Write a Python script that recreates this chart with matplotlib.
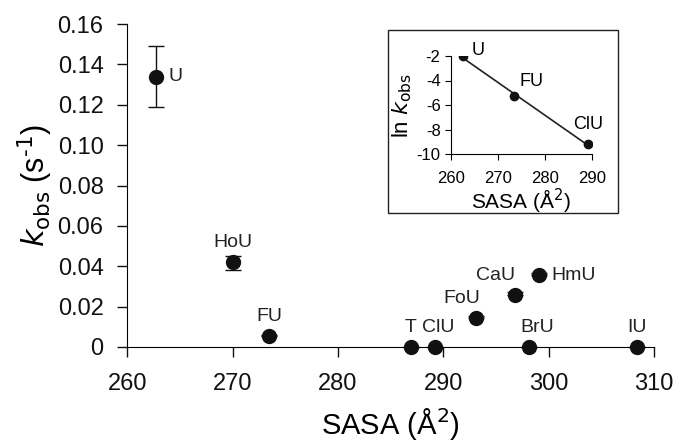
import matplotlib.pyplot as plt
import numpy as np

plt.rcParams['font.family'] = ['Liberation Sans', 'DejaVu Sans']
plt.rcParams['axes.unicode_minus'] = False

# main panel data
names = ['U', 'HoU', 'FU', 'T', 'ClU', 'FoU', 'CaU', 'HmU', 'BrU', 'IU']
sasa = [262.7, 270.0, 273.5, 286.9, 289.2, 293.1, 296.8, 299.1, 298.1, 308.4]
kobs = [0.134, 0.042, 0.0055, 0.0, 0.0, 0.0144, 0.026, 0.0356, 0.0, 0.0]
err_lo = [0.015, 0.004, 0.0, 0.0, 0.0, 0.0, 0.0, 0.0, 0.0, 0.0]
err_hi = [0.015, 0.003, 0.0005, 0.0, 0.0, 0.001, 0.001, 0.001, 0.0, 0.0]

# inset data
in_names = ['U', 'FU', 'ClU']
in_sasa = [262.5, 273.3, 289.2]
in_lnk = [-2.0, -5.3, -9.2]

# label offsets in points (dx, dy)
offsets = {
    'U': (9, 0), 'HoU': (0, 14), 'FU': (0, 14), 'T': (0, 14), 'ClU': (2, 14),
    'FoU': (-10, 14), 'CaU': (-14, 14), 'HmU': (25, 0), 'BrU': (6, 14), 'IU': (0, 14),
}

fig = plt.figure(figsize=(6.73, 4.46), dpi=100)
ax = fig.add_axes([0.189, 0.222, 0.783, 0.724])

ax.errorbar(sasa, kobs, yerr=[err_lo, err_hi], fmt='o', color='#111111',
            markersize=10, capsize=6, elinewidth=1, capthick=1, clip_on=False, zorder=3)
for n, x, y in zip(names, sasa, kobs):
    dx, dy = offsets[n]
    if n == 'U':
        ax.annotate(n, (x, y), xytext=(dx, 0), textcoords='offset points',
                    ha='left', va='center', fontsize=14, color='#222222')
    else:
        ax.annotate(n, (x, y), xytext=(dx, dy), textcoords='offset points',
                    ha='center', va='center', fontsize=14, color='#222222')

ax.set_xlim(260, 310)
ax.set_ylim(0, 0.16)
ax.set_xticks(np.arange(260, 311, 10))
ax.set_yticks(np.arange(0, 0.161, 0.02))
ax.set_yticklabels(['0'] + ['%.2f' % v for v in np.arange(0.02, 0.161, 0.02)])
for s in ['top', 'right']:
    ax.spines[s].set_visible(False)
ax.tick_params(direction='out', length=7, labelsize=17, width=1, colors='#111111')
ax.tick_params(axis='x', pad=12)
ax.tick_params(axis='y', pad=10)
ax.set_xlabel('SASA (Å$^2$)', fontsize=21, labelpad=8)
ax.set_ylabel(r'$k_{\mathrm{obs}}$ (s$^{\text{-}1}$)', fontsize=22, labelpad=2)

# inset box
box = plt.Rectangle((388 / 673, 1 - 213 / 446), 230 / 673, 183 / 446,
                    transform=fig.transFigure, facecolor='white', edgecolor='#222222',
                    linewidth=1, zorder=5)
fig.patches.append(box)

ins = fig.add_axes([451 / 673, 1 - 154 / 446, 141 / 673, 98 / 446])
ins.set_zorder(6)
ins.patch.set_alpha(0)
fit = np.polyfit(in_sasa, in_lnk, 1)
xs = np.array([in_sasa[0], in_sasa[-1]])
ins.plot(xs, np.polyval(fit, xs), color='#222222', linewidth=1.2)
ins.plot(in_sasa, in_lnk, 'o', color='#111111', markersize=6)
ins.annotate('U', (in_sasa[0], in_lnk[0]), xytext=(11, 4), textcoords='offset points',
             ha='center', va='center', fontsize=13)
ins.annotate('FU', (in_sasa[1], in_lnk[1]), xytext=(13, 11), textcoords='offset points',
             ha='center', va='center', fontsize=13)
ins.annotate('ClU', (in_sasa[2], in_lnk[2]), xytext=(0, 14), textcoords='offset points',
             ha='center', va='center', fontsize=13)
ins.set_xlim(260, 290)
ins.set_ylim(-10, -2)
ins.set_xticks([260, 270, 280, 290])
ins.set_yticks([-2, -4, -6, -8, -10])
for s in ['top', 'right']:
    ins.spines[s].set_visible(False)
ins.tick_params(direction='out', length=4, labelsize=12)
ins.tick_params(axis='x', pad=8)
ins.set_xlabel('SASA (Å$^2$)', fontsize=15, labelpad=1)
ins.set_ylabel(r'ln $k_{\mathrm{obs}}$', fontsize=16, labelpad=2)

fig.savefig('out.png', dpi=100)
